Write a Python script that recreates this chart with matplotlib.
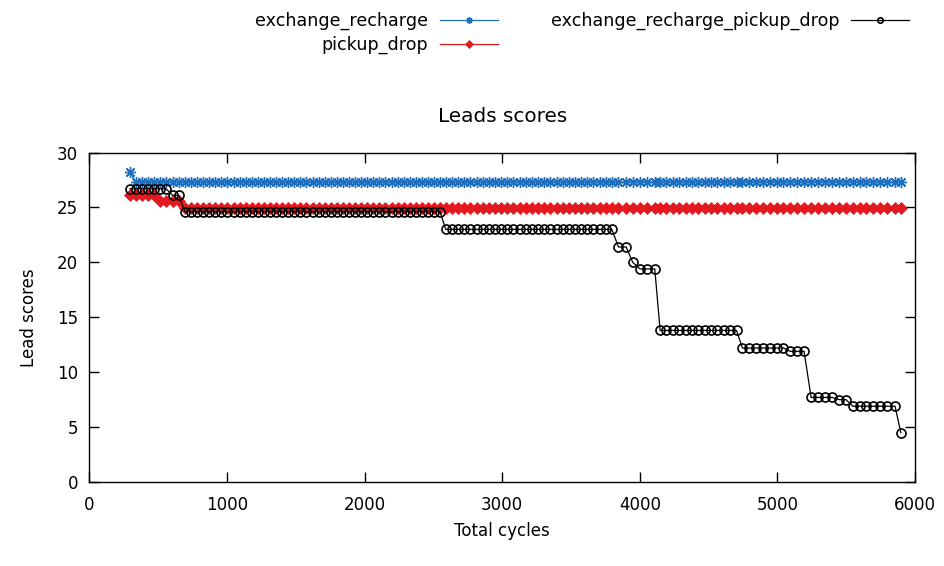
import matplotlib.pyplot as plt

# x positions (total cycles)
cycles = [296, 339, 383, 427, 470, 514, 557, 606, 650,
          695, 739, 783, 827, 872, 916, 960, 1004, 1048, 1092,
          1136, 1181, 1225, 1269, 1313, 1357, 1401, 1446, 1490, 1534,
          1578, 1622, 1666, 1711, 1755, 1799, 1843, 1887, 1931, 1976,
          2020, 2064, 2108, 2152, 2196, 2240, 2285, 2329, 2373, 2417,
          2461, 2505, 2549,
          2590, 2635, 2680, 2724, 2769, 2814, 2859, 2903, 2948, 2993,
          3037, 3082, 3127, 3172, 3216, 3261, 3306, 3350, 3395, 3440,
          3484, 3529, 3574, 3619, 3663, 3708, 3753, 3797,
          3845, 3901, 3949, 4002, 4055, 4109,
          4148, 4194, 4241, 4287, 4333, 4379, 4426, 4472, 4518, 4564,
          4611, 4657, 4703,
          4746, 4796, 4845, 4895, 4945, 4994, 5044,
          5092, 5143, 5194, 5245, 5295, 5346, 5397, 5448, 5499,
          5548, 5597, 5645, 5698, 5746, 5800, 5855, 5897]

exchange_recharge = [28.2, 27.3, 27.3, 27.3, 27.3, 27.3, 27.3, 27.3, 27.3,
                     27.3, 27.3, 27.3, 27.3, 27.3, 27.3, 27.3, 27.3, 27.3, 27.3,
                     27.3, 27.3, 27.3, 27.3, 27.3, 27.3, 27.3, 27.3, 27.3, 27.3,
                     27.3, 27.3, 27.3, 27.3, 27.3, 27.3, 27.3, 27.3, 27.3, 27.3,
                     27.3, 27.3, 27.3, 27.3, 27.3, 27.3, 27.3, 27.3, 27.3, 27.3,
                     27.3, 27.3, 27.3,
                     27.3, 27.3, 27.3, 27.3, 27.3, 27.3, 27.3, 27.3, 27.3, 27.3,
                     27.3, 27.3, 27.3, 27.3, 27.3, 27.3, 27.3, 27.3, 27.3, 27.3,
                     27.3, 27.3, 27.3, 27.3, 27.3, 27.3, 27.3, 27.3,
                     27.3, 27.3, 27.3, 27.3, 27.3, 27.3,
                     27.3, 27.3, 27.3, 27.3, 27.3, 27.3, 27.3, 27.3, 27.3, 27.3,
                     27.3, 27.3, 27.3,
                     27.3, 27.3, 27.3, 27.3, 27.3, 27.3, 27.3,
                     27.3, 27.3, 27.3, 27.3, 27.3, 27.3, 27.3, 27.3, 27.3,
                     27.3, 27.3, 27.3, 27.3, 27.3, 27.3, 27.3, 27.3]

pickup_drop = [26.1, 26.1, 26.1, 26.1, 26.1, 25.6, 25.6, 25.6, 25.6,
               24.95, 24.95, 24.95, 24.95, 24.95, 24.95, 24.95, 24.95, 24.95, 24.95,
               24.95, 24.95, 24.95, 24.95, 24.95, 24.95, 24.95, 24.95, 24.95, 24.95,
               24.95, 24.95, 24.95, 24.95, 24.95, 24.95, 24.95, 24.95, 24.95, 24.95,
               24.95, 24.95, 24.95, 24.95, 24.95, 24.95, 24.95, 24.95, 24.95, 24.95,
               24.95, 24.95, 24.95,
               24.95, 24.95, 24.95, 24.95, 24.95, 24.95, 24.95, 24.95, 24.95, 24.95,
               24.95, 24.95, 24.95, 24.95, 24.95, 24.95, 24.95, 24.95, 24.95, 24.95,
               24.95, 24.95, 24.95, 24.95, 24.95, 24.95, 24.95, 24.95,
               24.95, 24.95, 24.95, 24.95, 24.95, 24.95,
               24.95, 24.95, 24.95, 24.95, 24.95, 24.95, 24.95, 24.95, 24.95, 24.95,
               24.95, 24.95, 24.95,
               24.95, 24.95, 24.95, 24.95, 24.95, 24.95, 24.95,
               24.95, 24.95, 24.95, 24.95, 24.95, 24.95, 24.95, 24.95, 24.95,
               24.95, 24.95, 24.95, 24.95, 24.95, 24.95, 24.95, 24.95]

exchange_recharge_pickup_drop = [26.7, 26.7, 26.7, 26.7, 26.7, 26.7, 26.7, 26.1, 26.1,
                                 24.6, 24.6, 24.6, 24.6, 24.6, 24.6, 24.6, 24.6, 24.6, 24.6,
                                 24.6, 24.6, 24.6, 24.6, 24.6, 24.6, 24.6, 24.6, 24.6, 24.6,
                                 24.6, 24.6, 24.6, 24.6, 24.6, 24.6, 24.6, 24.6, 24.6, 24.6,
                                 24.6, 24.6, 24.6, 24.6, 24.6, 24.6, 24.6, 24.6, 24.6, 24.6,
                                 24.6, 24.6, 24.6,
                                 23.0, 23.0, 23.0, 23.0, 23.0, 23.0, 23.0, 23.0, 23.0, 23.0,
                                 23.0, 23.0, 23.0, 23.0, 23.0, 23.0, 23.0, 23.0, 23.0, 23.0,
                                 23.0, 23.0, 23.0, 23.0, 23.0, 23.0, 23.0, 23.0,
                                 21.4, 21.4, 20.0, 19.4, 19.4, 19.4,
                                 13.8, 13.8, 13.8, 13.8, 13.8, 13.8, 13.8, 13.8, 13.8, 13.8,
                                 13.8, 13.8, 13.8,
                                 12.2, 12.2, 12.2, 12.2, 12.2, 12.2, 12.2,
                                 11.9, 11.9, 11.9, 7.7, 7.7, 7.7, 7.7, 7.5, 7.5,
                                 6.9, 6.9, 6.9, 6.9, 6.9, 6.9, 6.9, 4.5]

plt.rcParams['font.family'] = 'DejaVu Sans'
plt.rcParams['font.size'] = 12

fig = plt.figure(figsize=(9.45, 5.66), dpi=100)
ax = fig.add_axes([89.3 / 945, 1 - 482 / 566, (915 - 89.3) / 945, (482 - 152.5) / 566])

ax.plot(cycles, exchange_recharge, color='#1f6fbf', lw=0.9,
        marker=(8, 2, 0), ms=8, mew=1.0, label='exchange_recharge')
ax.plot(cycles, pickup_drop, color='#e3191f', lw=0.9,
        marker='D', ms=6.5, mew=0.5, label='pickup_drop')
ax.plot(cycles, exchange_recharge_pickup_drop, color='black', lw=0.9,
        marker='o', ms=6.5, mfc='none', mew=1.2, label='exchange_recharge_pickup_drop')

ax.set_xlim(0, 6000)
ax.set_ylim(0, 30)
ax.set_xticks([0, 1000, 2000, 3000, 4000, 5000, 6000])
ax.set_yticks([0, 5, 10, 15, 20, 25, 30])
ax.tick_params(direction='in', top=True, right=True, length=7, width=1, pad=8)
ax.tick_params(axis='x', pad=10)
for s in ax.spines.values():
    s.set_linewidth(1.0)

ax.set_title('Leads scores', pad=22)
ax.set_xlabel('Total cycles', labelpad=6)
ax.set_ylabel('Lead scores', labelpad=14)

fig.legend(loc='center', bbox_to_anchor=(582 / 945, 1 - 33 / 566), ncol=2,
           markerfirst=False, frameon=False, handlelength=3.3, columnspacing=3,
           handletextpad=0.7, labelspacing=0.3, markerscale=0.6,
           prop={'size': 12.6})

fig.savefig('out.png', dpi=100)
